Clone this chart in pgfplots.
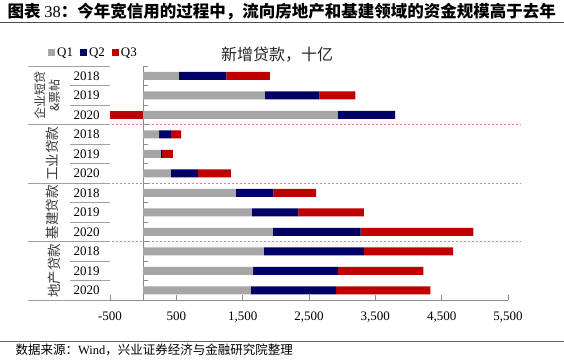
\documentclass[border=0pt]{standalone}
\usepackage{pgfplots}
\pgfplotsset{compat=1.18}
\usepackage{pgfplotstable}
\usepackage{fontspec}
\setmainfont{Liberation Serif}
\newfontfamily\cjk{Noto Sans CJK SC}
\definecolor{qone}{HTML}{A6A6A6}
\definecolor{qtwo}{HTML}{000066}
\definecolor{qthree}{HTML}{C00000}
\definecolor{axgray}{HTML}{8C8C8C}
\definecolor{lblgray}{HTML}{A0A0A0}
\definecolor{dashred}{HTML}{E58080}

\pgfplotstableread{
y q1 q2 q3
0 540 715 655
1 1836 820 543
2 2930 867 0
3 240 178 155
4 265 20 163
5 418 412 493
6 1393 570 645
7 1638 700 991
8 1952 1327 1698
9 1821 1508 1342
10 1659 1278 1286
11 1620 1287 1422
}\loans

\begin{document}
\begin{tikzpicture}
\path[use as bounding box] (-110pt,-61pt) rectangle (454pt,300pt);
\begin{axis}[
  at={(0pt,0pt)}, anchor=south west,
  scale only axis, width=398pt, height=234pt,
  xbar stacked, bar width=8pt,
  xmin=-500, xmax=5500, ymin=-0.5, ymax=11.5, y dir=reverse,
  axis x line*=bottom, axis y line*=left,
  x axis line style={draw=axgray, line width=0.8pt},
  y axis line style={draw=none},
  xtick={-500,500,1500,2500,3500,4500,5500},
  xticklabels={{-500},{500},{1,500},{2,500},{3,500},{4,500},{5,500}},
  xtick style={draw=axgray, line width=0.8pt},
  tick align=inside, major tick length=5pt,
  ytick={0,...,11},
  yticklabels={2018,2019,2020,2018,2019,2020,2018,2019,2020,2018,2019,2020},
  ytick style={draw=none},
  yticklabel style={anchor=center, xshift=-23.3pt, font=\fontsize{13}{13}\selectfont},
  xticklabel style={font=\fontsize{13}{13}\selectfont, yshift=-8pt},
  clip=false,
  legend columns=3,
  legend style={at={(-0.1558,1.0568)}, anchor=west, draw=none, fill=none,
    inner sep=0pt, font=\fontsize{13}{13}\selectfont,
    /tikz/every even column/.append style={column sep=5pt}},
  legend image code/.code={\fill[#1] (0pt,-3.5pt) rectangle (7pt,3.5pt);},
]
\addplot[fill=qone, draw=none] table[x=q1,y=y]{\loans};
\addplot[fill=qtwo, draw=none] table[x=q2,y=y]{\loans};
\addplot[fill=qthree, draw=none] table[x=q3,y=y]{\loans};
\legend{Q1,Q2,Q3}
% value axis at 0
\draw[axgray, line width=0.8pt] (axis cs:0,-0.5) -- (axis cs:0,11.5);
\pgfplotsinvokeforeach{-0.5,0.5,...,10.5}{\draw[axgray, line width=0.6pt] (axis cs:0,#1) -- ++(5pt,0pt);}
% category area lines
\pgfplotsinvokeforeach{-0.5,2.5,5.5,8.5,11.5}{\draw[lblgray, line width=0.8pt] (axis cs:-1739,#1) -- (axis cs:-500,#1);}
\pgfplotsinvokeforeach{0.5,1.5,3.5,4.5,6.5,7.5,9.5,10.5}{\draw[lblgray, line width=0.8pt] (axis cs:-1105,#1) -- (axis cs:-500,#1);}
\pgfplotsinvokeforeach{2.5,5.5,8.5}{\draw[dashred, line width=0.6pt, dash pattern=on 2.5pt off 1.5pt] (axis cs:-1739,#1) -- (axis cs:5680,#1);}
% group labels
\node[rotate=90, align=center, font=\cjk\fontsize{12}{14.5}\selectfont, text=black!80] at (axis cs:-1450,1) {企业短贷\\\&票帖};
\node[rotate=90, font=\cjk\fontsize{13.5}{13}\selectfont, text=black!80] at (axis cs:-1362,4) {工业贷款};
\node[rotate=90, font=\cjk\fontsize{13.5}{13}\selectfont, text=black!80] at (axis cs:-1362,7) {基建贷款};
\node[rotate=90, font=\cjk\fontsize{13.5}{13}\selectfont, text=black!80] at (axis cs:-1332,10) {地产贷款};
\end{axis}
\begin{axis}[
  at={(0pt,0pt)}, anchor=south west,
  scale only axis, width=398pt, height=234pt,
  xbar, bar width=8pt,
  xmin=-500, xmax=5500, ymin=-0.5, ymax=11.5, y dir=reverse,
  hide axis, clip=false,
]
\addplot[fill=qthree, draw=none] coordinates {(-500,2)};
\end{axis}
% titles and source
\node[font=\cjk\fontsize{16}{16}\selectfont, text=black!85] at (167pt,245pt) {新增贷款，十亿};
\node[anchor=west, font=\fontsize{16.5}{16.5}\selectfont] at (-106pt,288.3pt) {{\cjk\bfseries 图表 }38{\cjk\bfseries ：今年宽信用的过程中，流向房地产和基建领域的资金规模高于去年}};
\draw[line width=1.3pt, black!70] (-110pt,277.5pt) -- (454pt,277.5pt);
\draw[line width=0.9pt, black!60] (-110pt,-41.7pt) -- (454pt,-41.7pt);
\node[anchor=west, font=\fontsize{12.5}{12.5}\selectfont] at (-98pt,-50pt) {{\cjk 数据来源：}Wind{\cjk ，兴业证券经济与金融研究院整理}};
\end{tikzpicture}
\end{document}
